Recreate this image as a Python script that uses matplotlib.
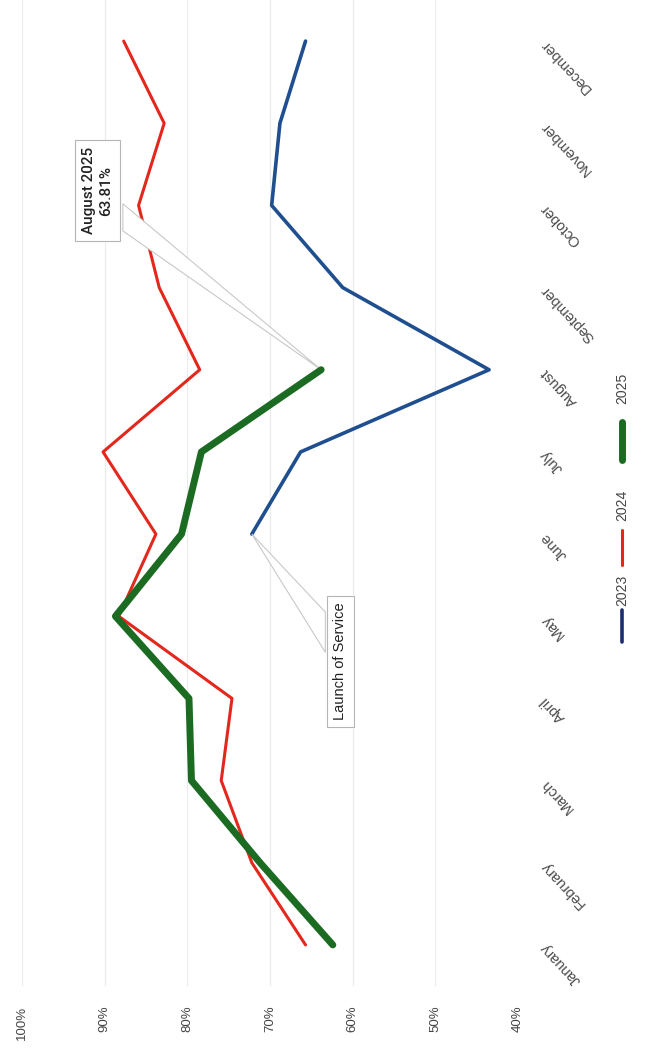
import numpy as np
import matplotlib.pyplot as plt
from matplotlib.lines import Line2D
from matplotlib.ticker import PercentFormatter

plt.rcParams['font.family'] = ['Liberation Sans', 'DejaVu Sans']

months = ['January', 'February', 'March', 'April', 'May', 'June', 'July',
          'August', 'September', 'October', 'November', 'December']
rate_2023 = [np.nan] * 5 + [0.722, 0.663, 0.435, 0.612, 0.698, 0.688, 0.657]
rate_2024 = [0.657, 0.722, 0.759, 0.746, 0.883, 0.838, 0.902, 0.785,
             0.834, 0.859, 0.828, 0.877]
rate_2025 = [0.624, 0.712, 0.795, 0.798, 0.887, 0.807, 0.783, 0.6381]
pct_ticks = [1.0, 0.9, 0.8, 0.7, 0.6, 0.5, 0.4]

c23, c24, c25 = '#1f4f8f', '#e2281c', '#1c6b22'

W, H = 645, 1057
fig = plt.figure(figsize=(W / 100, H / 100), dpi=100)
# chart is shown turned 90 deg: percent runs left->right (high to low), months bottom->top
ax = fig.add_axes([22 / W, 1 - 986 / H, (518 - 22) / W, 986 / H])
ax.set_xlim(1.0, 0.4)
ax.set_ylim(-0.5, 11.5)
for s in ax.spines.values():
    s.set_visible(False)

ax.set_xticks(pct_ticks)
ax.xaxis.set_major_formatter(PercentFormatter(1.0, decimals=0))
ax.tick_params(axis='x', length=0, pad=14, labelsize=9.5, labelcolor='#444444')
for lab in ax.get_xticklabels():
    lab.set_rotation(90)
ax.grid(axis='x', color='#ebebeb', lw=0.8)
ax.set_axisbelow(True)

ax.yaxis.tick_right()
ax.set_yticks(range(len(months)))
ax.set_yticklabels(months, rotation=133, rotation_mode='anchor',
                   ha='right', va='center', fontsize=10.5, color='#4a4a4a')
ax.tick_params(axis='y', length=0, pad=18)

y = np.arange(len(months))
ax.plot(rate_2023, y, color=c23, lw=2.6, zorder=3, solid_capstyle='round')
ax.plot(rate_2024, y, color=c24, lw=2.2, zorder=3, solid_capstyle='round')
ax.plot(rate_2025, y[:len(rate_2025)], color=c25, lw=5, zorder=6,
        solid_capstyle='round', solid_joinstyle='round')

# callouts
aug = 7
tip = (rate_2025[aug], aug)
ax.fill([tip[0], 0.878, 0.878], [tip[1], 9.02, 8.69], fc='white',
        ec='#c8c8c8', lw=0.8, zorder=4)
ax.text(0.909, 9.18, 'August 2025\n63.81%', rotation=90, ha='center',
        va='center', fontsize=11, family=['Roboto', 'DejaVu Sans'],
        weight='medium', color='#222222', zorder=7, linespacing=1.3,
        bbox=dict(boxstyle='square,pad=0.45', fc='white', ec='#b5b5b5', lw=0.8))

jun = 5
tip = (rate_2023[jun], jun)
ax.fill([tip[0], 0.633, 0.633], [tip[1], 4.05, 3.56], fc='white',
        ec='#c8c8c8', lw=0.8, zorder=4)
ax.text(0.615, 3.45, 'Launch of Service', rotation=90, ha='center',
        va='center', fontsize=10.5, color='#222222', zorder=7,
        bbox=dict(boxstyle='square,pad=0.45', fc='white', ec='#b5b5b5', lw=0.8))

# legend drawn by hand so it can be turned with the chart
leg = [('2023', '#1b2d6e', 2.6, 642, 610, 590),
       ('2024', c24, 2.2, 565, 530, 505),
       ('2025', c25, 5, 460, 422, 388)]
lx = 622
for name, col, lw, y0, y1, ty in leg:
    fig.add_artist(Line2D([lx / W, lx / W], [1 - y0 / H, 1 - y1 / H],
                          color=col, lw=lw, solid_capstyle='round'))
    fig.text(lx / W, 1 - ty / H, name, rotation=90, ha='center', va='center',
             fontsize=10, color='#444444')

fig.savefig('out.png', dpi=100)
